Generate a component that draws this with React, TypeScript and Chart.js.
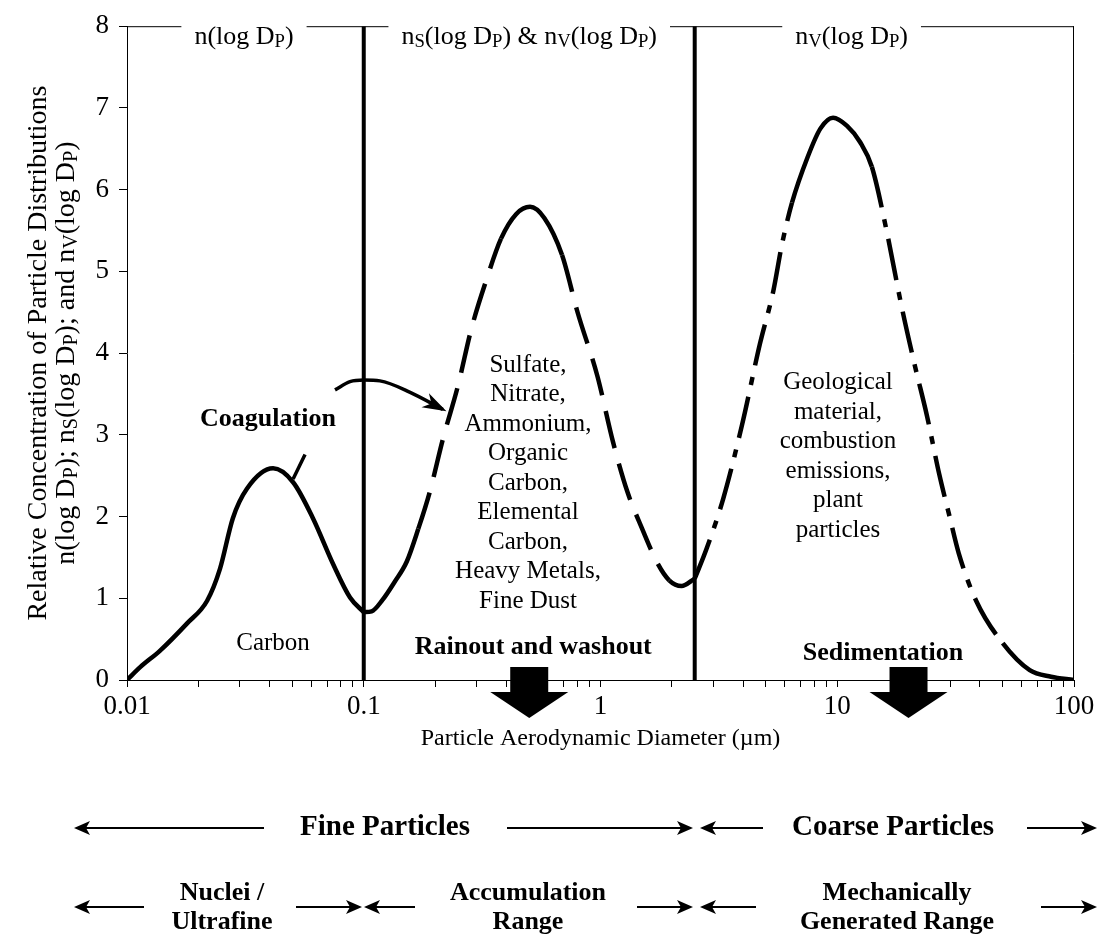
import React, { useEffect, useRef } from 'react';
import { Chart, registerables } from 'chart.js';

Chart.register(...registerables);

const W = 1101;
const H = 939;
const FONT = '"Liberation Serif", "Times New Roman", serif';

// ---------- axis ticks ----------
const X_TICK_VALUES = [
  0.01, 0.02, 0.03, 0.04, 0.05, 0.06, 0.07, 0.08, 0.09,
  0.1, 0.2, 0.3, 0.4, 0.5, 0.6, 0.7, 0.8, 0.9,
  1, 2, 3, 4, 5, 6, 7, 8, 9,
  10, 20, 30, 40, 50, 60, 70, 80, 90, 100,
];
const X_MAJOR = [0.01, 0.1, 1, 10, 100];
const X_MAJOR_LABELS = ['0.01', '0.1', '1', '10', '100'];
const Y_TICK_VALUES = [0, 1, 2, 3, 4, 5, 6, 7, 8];

// ---------- series ----------
const NUCLEI_X = [0.01, 0.0114, 0.0138, 0.0179, 0.0218, 0.0247, 0.028, 0.0321, 0.0414, 0.0503, 0.061, 0.0742, 0.0875, 0.1];
const NUCLEI_Y = [0, 0.16, 0.36, 0.69, 0.97, 1.36, 1.98, 2.34, 2.59, 2.42, 1.98, 1.42, 1.01, 0.83];

const ACCUM_X = [0.1, 0.108, 0.12, 0.135, 0.152, 0.17, 0.19, 0.216, 0.25, 0.285, 0.33, 0.38, 0.44, 0.504, 0.58, 0.688, 0.8, 0.97, 1.13, 1.3, 1.5, 1.74, 1.95, 2.2, 2.5];
const ACCUM_Y = [0.83, 0.84, 0.98, 1.2, 1.45, 1.85, 2.3, 2.95, 3.6, 4.3, 4.9, 5.4, 5.7, 5.79, 5.65, 5.2, 4.5, 3.72, 2.91, 2.3, 1.85, 1.43, 1.22, 1.15, 1.24];

const COARSE_X = [2.5, 2.8, 3.3, 3.96, 4.72, 5.37, 5.84, 6.44, 7.5, 8.5, 9.6, 11, 12.5, 14, 16.1, 18.7, 21.3, 23.9, 27, 29.7, 32.6, 38.6, 50, 65, 80, 100];
const COARSE_Y = [1.24, 1.6, 2.22, 3.12, 4.12, 4.76, 5.33, 5.84, 6.4, 6.75, 6.88, 6.78, 6.58, 6.28, 5.52, 4.57, 3.84, 3.24, 2.51, 2.02, 1.55, 0.97, 0.45, 0.12, 0.04, 0];

const COAG_X = [0.0503, 0.0565, 0.065, 0.0756, 0.0875, 0.1, 0.117, 0.157, 0.216];
const COAG_Y = [2.46, 2.76, null, 3.55, 3.65, 3.67, 3.66, 3.52, 3.31];

const BOUNDARY_X = [0.1, 2.5];

// dash styling ranges (x-ranges drawn solid)
const ACCUM_SOLID = [[0.1, 0.165], [0.36, 0.69], [1.9, 2.5]];
const COARSE_SOLID = [[6.4, 14], [48, 100]];

// ---------- texts ----------
const TOP_LABELS = ['n(log D_P)', 'n_S(log D_P) & n_V(log D_P)', 'n_V(log D_P)'];
const TOP_LABEL_X = [0.0312, 0.5, 11.5];
const Y_TITLE = ['Relative Concentration of Particle Distributions', 'n(log D_P); n_S(log D_P); and n_V(log D_P)'];
const X_TITLE = 'Particle Aerodynamic Diameter (\u00b5m)';

const NOTES = [
  { lines: ['Coagulation'], x: 0.0394, y: 3.19, bold: true },
  { lines: ['Carbon'], x: 0.0414, y: 0.45, bold: false },
  { lines: ['Sulfate,', 'Nitrate,', 'Ammonium,', 'Organic', 'Carbon,', 'Elemental', 'Carbon,', 'Heavy Metals,', 'Fine Dust'], x: 0.494, y: 3.85, bold: false },
  { lines: ['Rainout and washout'], x: 0.52, y: 0.4, bold: true },
  { lines: ['Geological', 'material,', 'combustion', 'emissions,', 'plant', 'particles'], x: 10.07, y: 3.64, bold: false },
  { lines: ['Sedimentation'], x: 15.6, y: 0.33, bold: true },
];
const DROP_ARROW_X = [0.5, 20];

const RANGE_ROW1 = [
  { lines: ['Fine Particles'], cx: 385 },
  { lines: ['Coarse Particles'], cx: 893 },
];
const RANGE_ROW2 = [
  { lines: ['Nuclei /', 'Ultrafine'], cx: 222 },
  { lines: ['Accumulation', 'Range'], cx: 528 },
  { lines: ['Mechanically', 'Generated Range'], cx: 897 },
];
// [tail, head]
const ROW1_ARROWS = [[264, 74], [507, 693], [763, 700], [1027, 1097]];
const ROW2_ARROWS = [[144, 74], [296, 362], [415, 364], [637, 693], [756, 700], [1041, 1097]];

// ---------- helpers ----------
type Part = { t: string; sub: boolean };
const SUB_SCALE = 0.72;
function parseRich(s: string): Part[] {
  const parts: Part[] = [];
  let buf = '';
  for (let i = 0; i < s.length; i++) {
    if (s[i] === '_' && i + 1 < s.length) {
      if (buf) parts.push({ t: buf, sub: false });
      buf = '';
      parts.push({ t: s[i + 1], sub: true });
      i++;
    } else buf += s[i];
  }
  if (buf) parts.push({ t: buf, sub: false });
  return parts;
}
function font(size: number, bold: boolean) {
  return `${bold ? 'bold ' : ''}${size}px ${FONT}`;
}
function richWidth(ctx: CanvasRenderingContext2D, s: string, size: number, bold = false) {
  let w = 0;
  for (const p of parseRich(s)) {
    ctx.font = font(p.sub ? size * SUB_SCALE : size, bold);
    w += ctx.measureText(p.t).width;
  }
  return w;
}
function drawRich(ctx: CanvasRenderingContext2D, s: string, x: number, y: number, size: number, bold = false) {
  const w = richWidth(ctx, s, size, bold);
  let cx = x - w / 2;
  ctx.textAlign = 'left';
  ctx.textBaseline = 'alphabetic';
  for (const p of parseRich(s)) {
    const fs = p.sub ? size * SUB_SCALE : size;
    ctx.font = font(fs, bold);
    ctx.fillText(p.t, cx, p.sub ? y + size * 0.12 : y);
    cx += ctx.measureText(p.t).width;
  }
}
function arrowHead(ctx: CanvasRenderingContext2D, tx: number, ty: number, ang: number, len: number, half: number, notch: number) {
  const c = Math.cos(ang), s = Math.sin(ang);
  const pt = (a: number, b: number) => [tx - a * c - b * -s, ty - a * s - b * c];
  ctx.beginPath();
  ctx.moveTo(tx, ty);
  let p = pt(len, half); ctx.lineTo(p[0], p[1]);
  p = pt(len - notch, 0); ctx.lineTo(p[0], p[1]);
  p = pt(len, -half); ctx.lineTo(p[0], p[1]);
  ctx.closePath();
  ctx.fill();
}
function inRanges(v: number, ranges: number[][]) {
  return ranges.some(([a, b]) => v >= a && v <= b);
}
function segDash(ranges: number[][], dash: number[]) {
  return (c: any) => {
    const mid = Math.sqrt(c.p0.parsed.x * c.p1.parsed.x);
    return inRanges(mid, ranges) ? [] : dash;
  };
}

const overlay = {
  id: 'overlay',
  afterDraw(chart: any) {
    const { ctx, chartArea: a, scales } = chart;
    const px = (v: number) => scales.x.getPixelForValue(v);
    const py = (v: number) => scales.y.getPixelForValue(v);
    ctx.save();
    ctx.fillStyle = '#000';
    ctx.strokeStyle = '#000';

    // top border with label gaps, right border
    const topSize = 26;
    const gaps = TOP_LABELS.map((s, i) => {
      const w = richWidth(ctx, s, topSize);
      const c = px(TOP_LABEL_X[i]);
      return [c - w / 2 - 13, c + w / 2 + 13];
    });
    ctx.lineWidth = 1;
    ctx.beginPath();
    let start = a.left;
    for (const [g0, g1] of gaps) {
      ctx.moveTo(start, a.top + 0.5);
      ctx.lineTo(g0, a.top + 0.5);
      start = g1;
    }
    ctx.moveTo(start, a.top + 0.5);
    ctx.lineTo(a.right, a.top + 0.5);
    ctx.moveTo(a.right - 0.5, a.top);
    ctx.lineTo(a.right - 0.5, a.bottom);
    ctx.stroke();
    TOP_LABELS.forEach((s, i) => drawRich(ctx, s, px(TOP_LABEL_X[i]), a.top + 18, topSize));

    // y title
    const cy = (a.top + a.bottom) / 2;
    [46, 74].forEach((bx, i) => {
      ctx.save();
      ctx.translate(bx, cy);
      ctx.rotate(-Math.PI / 2);
      drawRich(ctx, Y_TITLE[i], 0, 0, 28);
      ctx.restore();
    });

    // x title
    ctx.font = font(24, false);
    ctx.textAlign = 'center';
    ctx.textBaseline = 'middle';
    ctx.fillText(X_TITLE, (a.left + a.right) / 2, a.bottom + 59);

    // notes
    for (const n of NOTES) {
      ctx.font = font(n.bold ? 26 : 25, n.bold);
      ctx.textAlign = 'center';
      ctx.textBaseline = 'middle';
      n.lines.forEach((l, k) => ctx.fillText(l, px(n.x), py(n.y) + k * 29.5));
    }

    // block arrows
    for (const v of DROP_ARROW_X) {
      const c = px(v);
      ctx.fillRect(c - 19, a.bottom - 13, 38, 26);
      ctx.beginPath();
      ctx.moveTo(c - 39, a.bottom + 12);
      ctx.lineTo(c + 39, a.bottom + 12);
      ctx.lineTo(c, a.bottom + 38);
      ctx.closePath();
      ctx.fill();
    }

    // coagulation arrowhead
    const meta = chart.getDatasetMeta(5);
    const pts = meta.data;
    const last = pts[pts.length - 1], prev = pts[pts.length - 2];
    const ang = Math.atan2(last.y - prev.y, last.x - prev.x);
    arrowHead(ctx, last.x + Math.cos(ang) * 4, last.y + Math.sin(ang) * 4, ang, 24, 8, 7);

    // range rows
    const drawArrow = (tail: number, head: number, y: number) => {
      ctx.lineWidth = 2;
      const dir = head > tail ? 1 : -1;
      ctx.beginPath();
      ctx.moveTo(tail, y);
      ctx.lineTo(head - dir * 8, y);
      ctx.stroke();
      arrowHead(ctx, head, y, dir > 0 ? 0 : Math.PI, 16, 7, 4);
    };
    const row1Y = 828, row2Y = 907;
    ROW1_ARROWS.forEach(([t, h]) => drawArrow(t, h, row1Y));
    ROW2_ARROWS.forEach(([t, h]) => drawArrow(t, h, row2Y));
    ctx.textAlign = 'center';
    ctx.textBaseline = 'middle';
    ctx.font = font(29, true);
    RANGE_ROW1.forEach((r) => ctx.fillText(r.lines[0], r.cx, row1Y));
    ctx.font = font(26, true);
    RANGE_ROW2.forEach((r) => {
      ctx.fillText(r.lines[0], r.cx, row2Y - 14);
      ctx.fillText(r.lines[1], r.cx, row2Y + 15);
    });
    ctx.restore();
  },
};

export default function App() {
  const ref = useRef<HTMLCanvasElement>(null);
  useEffect(() => {
    const toPts = (xs: number[], ys: (number | null)[]) => xs.map((x, i) => ({ x, y: ys[i] }));
    const lineBase = {
      borderColor: '#000',
      backgroundColor: '#000',
      pointRadius: 0,
      borderWidth: 4.5,
      fill: false,
      cubicInterpolationMode: 'monotone' as const,
      borderCapStyle: 'butt' as const,
      borderJoinStyle: 'round' as const,
    };
    const chart = new Chart(ref.current!, {
      type: 'line',
      data: {
        datasets: [
          { ...lineBase, data: toPts([BOUNDARY_X[0], BOUNDARY_X[0]], [0, 8]), borderWidth: 4, cubicInterpolationMode: 'default', tension: 0 },
          { ...lineBase, data: toPts([BOUNDARY_X[1], BOUNDARY_X[1]], [0, 8]), borderWidth: 4, cubicInterpolationMode: 'default', tension: 0 },
          { ...lineBase, data: toPts(NUCLEI_X, NUCLEI_Y) },
          { ...lineBase, data: toPts(ACCUM_X, ACCUM_Y), segment: { borderDash: segDash(ACCUM_SOLID, [38, 16]) } },
          { ...lineBase, data: toPts(COARSE_X, COARSE_Y), segment: { borderDash: segDash(COARSE_SOLID, [42, 12, 8, 12]) } },
          { ...lineBase, data: toPts(COAG_X, COAG_Y), borderWidth: 3.5, spanGaps: false },
        ],
      },
      options: {
        responsive: false,
        animation: false,
        devicePixelRatio: 1,
        layout: { padding: { left: 0, right: 27, top: 20, bottom: 0 } },
        plugins: { legend: { display: false }, tooltip: { enabled: false } },
        scales: {
          x: {
            type: 'logarithmic',
            min: 0.01,
            max: 100,
            afterBuildTicks: (s: any) => {
              s.ticks = X_TICK_VALUES.map((v) => ({ value: v }));
            },
            afterFit: (s: any) => {
              s.height = H - 680;
            },
            ticks: {
              autoSkip: false,
              maxRotation: 0,
              padding: 4,
              color: '#000',
              font: { family: FONT, size: 27 },
              callback: (v: any) => {
                const i = X_MAJOR.findIndex((m) => Math.abs(m - v) / m < 1e-6);
                return i >= 0 ? X_MAJOR_LABELS[i] : '';
              },
            },
            grid: { drawOnChartArea: false, drawTicks: true, tickLength: 7, color: '#000', lineWidth: 1 },
            border: { display: true, color: '#000', width: 1 },
          },
          y: {
            type: 'linear',
            min: 0,
            max: 8,
            afterBuildTicks: (s: any) => {
              s.ticks = Y_TICK_VALUES.map((v) => ({ value: v }));
            },
            afterFit: (s: any) => {
              s.width = 127;
            },
            ticks: { padding: 10, color: '#000', font: { family: FONT, size: 27 } },
            grid: { drawOnChartArea: false, drawTicks: true, tickLength: 8, color: '#000', lineWidth: 1 },
            border: { display: true, color: '#000', width: 1 },
          },
        },
      },
      plugins: [overlay],
    } as any);
    return () => chart.destroy();
  }, []);
  return (
    <div style={{ position: 'fixed', left: 0, top: 0, width: W, height: H, background: '#fff' }}>
      <canvas ref={ref} width={W} height={H} style={{ display: 'block' }} />
    </div>
  );
}
